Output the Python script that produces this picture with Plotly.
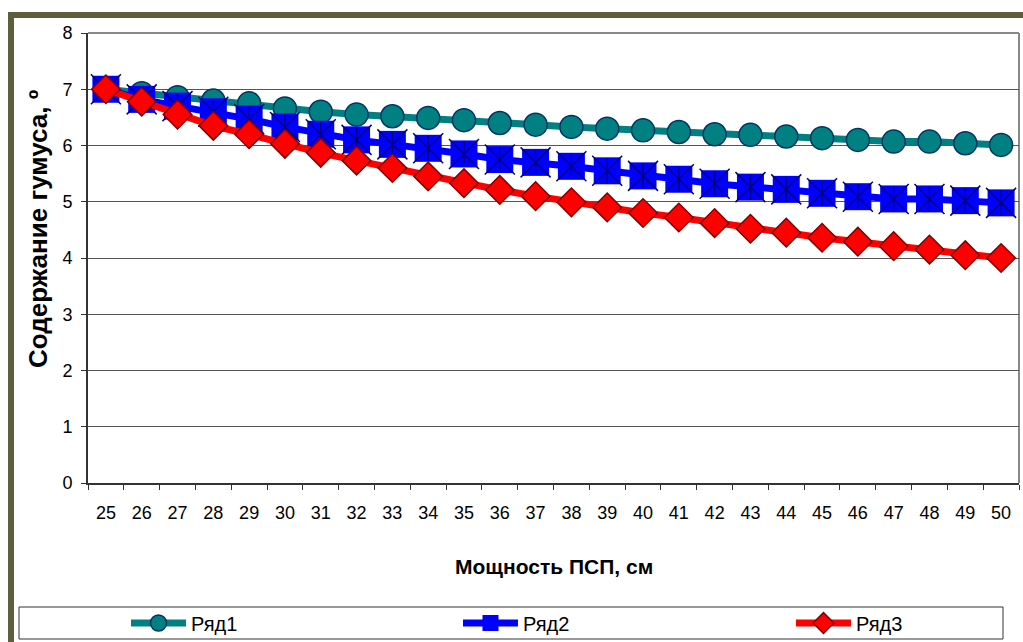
import plotly.graph_objects as go

# Мощность ПСП, см
thickness = list(range(25, 51))

# Содержание гумуса по трём рядам
row1 = [7.00, 6.93, 6.86, 6.80, 6.75, 6.66, 6.60, 6.55, 6.52, 6.49, 6.45, 6.40, 6.37,
        6.33, 6.30, 6.27, 6.24, 6.20, 6.19, 6.16, 6.13, 6.10, 6.07, 6.07, 6.04, 6.01]
row2 = [7.00, 6.82, 6.70, 6.60, 6.47, 6.33, 6.20, 6.10, 6.02, 5.95, 5.85, 5.75, 5.70,
        5.63, 5.55, 5.46, 5.40, 5.32, 5.26, 5.22, 5.15, 5.09, 5.05, 5.05, 5.02, 4.98]
row3 = [7.00, 6.78, 6.55, 6.35, 6.20, 6.03, 5.87, 5.73, 5.60, 5.45, 5.33, 5.21, 5.10,
        4.99, 4.90, 4.80, 4.72, 4.62, 4.52, 4.45, 4.36, 4.29, 4.21, 4.15, 4.05, 4.00]

series_names = ["Ряд1", "Ряд2", "Ряд3"]
x_labels = [str(v) for v in thickness]
x_title = "Мощность ПСП, см"
y_title = "Содержание гумуса, º"

W, H = 1023, 642
L, R, T, B = 88, 1019, 33, 483  # plot-area edges in pixels


def px(xp):
    return (xp - L) / (R - L)


def py(yp):
    return (B - yp) / (B - T)


FONT = "Liberation Sans, Arial, sans-serif"
NAVY = "#000080"

fig = go.Figure()

fig.add_trace(go.Scatter(
    x=x_labels, y=row1, name=series_names[0], mode="lines+markers", legend="legend",
    line=dict(color="#008080", width=7),
    marker=dict(symbol="circle", size=23, color="#008080",
                line=dict(color="#003366", width=1.5)),
))
fig.add_trace(go.Scatter(
    x=x_labels, y=row2, name=series_names[1], mode="lines+markers", legend="legend2",
    line=dict(color="#0000FF", width=7),
    marker=dict(symbol="square", size=27, color="#0000FF",
                line=dict(color="#0000FF", width=0)),
))
# asterisk drawn over the square markers
fig.add_trace(go.Scatter(
    x=x_labels, y=row2, mode="markers", showlegend=False, hoverinfo="skip",
    marker=dict(symbol="x-thin-open", size=30, color=NAVY, line=dict(color=NAVY, width=1.5)),
))
fig.add_trace(go.Scatter(
    x=x_labels, y=row2, mode="markers", showlegend=False, hoverinfo="skip",
    marker=dict(symbol="line-ns-open", size=18, color=NAVY, line=dict(color=NAVY, width=1.5)),
))
fig.add_trace(go.Scatter(
    x=x_labels, y=row3, name=series_names[2], mode="lines+markers", legend="legend3",
    line=dict(color="#FF0000", width=7),
    marker=dict(symbol="diamond", size=22, color="#FF0000",
                line=dict(color="#800000", width=1.5)),
))

shapes = [
    # outer chart frame (left and top edges)
    dict(type="rect", xref="paper", yref="paper", x0=px(8), x1=px(14), y0=py(12), y1=py(660),
         fillcolor="#5e5e3c", line=dict(width=0), layer="above"),
    dict(type="rect", xref="paper", yref="paper", x0=px(8), x1=px(1030), y0=py(12), y1=py(18),
         fillcolor="#5e5e3c", line=dict(width=0), layer="above"),
    # plot-area border (top and right)
    dict(type="line", xref="paper", yref="paper", x0=0, x1=1, y0=1, y1=1,
         line=dict(color="#888888", width=2), layer="below"),
    dict(type="line", xref="paper", yref="paper", x0=1, x1=1, y0=0, y1=1,
         line=dict(color="#888888", width=2), layer="below"),
    # legend box
    dict(type="rect", xref="paper", yref="paper", x0=px(19), x1=px(1003), y0=py(607), y1=py(639),
         fillcolor="rgba(0,0,0,0)", line=dict(color="#333333", width=1)),
]

annotations = [
    dict(text="<b>" + x_title + "</b>", xref="paper", yref="paper", x=px(554), y=py(566),
         xanchor="center", yanchor="middle", showarrow=False,
         font=dict(family=FONT, size=21, color="black")),
    dict(text="<b>" + y_title + "</b>", xref="paper", yref="paper", x=px(38), y=py(229),
         xanchor="center", yanchor="middle", showarrow=False, textangle=-90,
         font=dict(family=FONT, size=26, color="black")),
]


def legend_at(x_px):
    return dict(orientation="h", x=px(x_px), xanchor="left", y=py(623), yanchor="middle",
                itemwidth=55, font=dict(family=FONT, size=20, color="black"),
                bgcolor="rgba(0,0,0,0)", borderwidth=0)


fig.update_layout(
    width=W, height=H,
    margin=dict(l=L, r=W - R, t=T, b=H - B, autoexpand=False),
    paper_bgcolor="white", plot_bgcolor="white",
    font=dict(family=FONT, size=16, color="black"),
    showlegend=True,
    legend=legend_at(126),
    legend2=legend_at(458),
    legend3=legend_at(791),
    shapes=shapes,
    annotations=annotations,
    xaxis=dict(
        type="category", range=[-0.5, 25.5], tickson="boundaries",
        ticks="outside", ticklen=5, tickcolor="#333333", tickwidth=1,
        showline=True, linecolor="#333333", linewidth=2, showgrid=False,
        tickfont=dict(family=FONT, size=18), ticklabelstandoff=12,
    ),
    yaxis=dict(
        range=[0, 8], dtick=1, tick0=0,
        ticks="outside", ticklen=5, tickcolor="#333333", tickwidth=1,
        showline=True, linecolor="#333333", linewidth=2,
        showgrid=True, gridcolor="#555555", gridwidth=1, zeroline=False,
        tickfont=dict(family=FONT, size=18), ticklabelstandoff=5,
    ),
)

fig.write_html("out.html")
